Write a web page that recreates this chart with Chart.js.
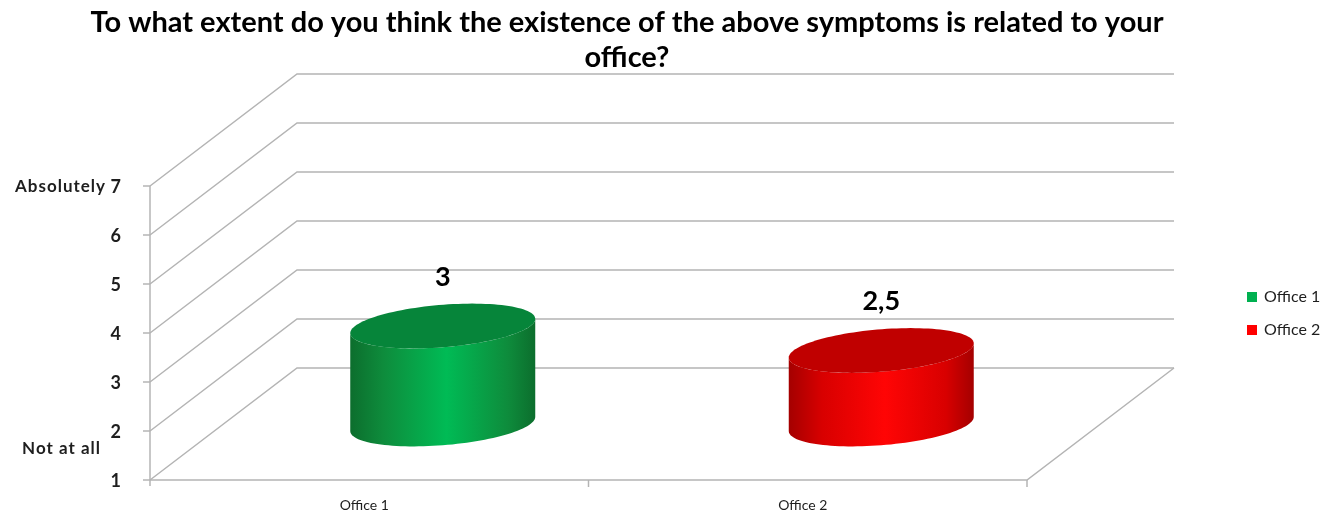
<!DOCTYPE html>
<html>
<head>
<meta charset="utf-8">
<title>Symptoms related to office</title>
<script src="https://cdn.jsdelivr.net/npm/chart.js@4/dist/chart.umd.min.js"></script>
<style>
  html, body { margin: 0; padding: 0; background: #ffffff; }
  canvas { display: block; }
</style>
</head>
<body>
<canvas id="chart" width="1341" height="517"></canvas>
<script>
// ---- data ----
const titleLines = ['To what extent do you think the existence of the above symptoms is related to your', 'office?'];
const categories = ['Office 1', 'Office 2'];
const values = [3, 2.5];
const valueLabels = ['3', '2,5'];
const yTicks = [1, 2, 3, 4, 5, 6, 7];
const yMin = 1;
const yMax = 7;
const topNote = 'Absolutely';
const bottomNote = 'Not at all';
const bottomNoteValue = 1.65;

// ---- style ----
const palette = [
  { edge: '#0c6e2d', mid: '#00bb55', side: '#0e8c3c', top: '#06853a', key: '#00b050' },
  { edge: '#a40000', mid: '#ff0505', side: '#d80000', top: '#c00000', key: '#ff0000' }
];
const depth = { dx: 147, dy: -112 };   // oblique projection of the full depth
const gridColor = '#b4b4b4';
const textColor = '#1e1e1e';
const FONT = 'Lato, "Open Sans", "DejaVu Sans", sans-serif';

function line(ctx, pts) {
  ctx.beginPath();
  ctx.moveTo(pts[0][0], pts[0][1]);
  for (let i = 1; i < pts.length; i++) ctx.lineTo(pts[i][0], pts[i][1]);
  ctx.stroke();
}

// walls, floor, gridlines and axis
const wallsPlugin = {
  id: 'walls',
  beforeDatasetsDraw(chart) {
    const ctx = chart.ctx;
    const { left, right, bottom } = chart.chartArea;
    const ys = chart.scales.y;
    const xs = chart.scales.x;
    ctx.save();
    ctx.strokeStyle = gridColor;
    ctx.lineWidth = 1.5;
    ctx.lineCap = 'butt';
    yTicks.forEach(v => {
      const y = ys.getPixelForValue(v);
      line(ctx, [[left, y], [left + depth.dx, y + depth.dy], [right + depth.dx, y + depth.dy]]);
      line(ctx, [[left - 7, y], [left, y]]);
    });
    // floor
    line(ctx, [[left, bottom], [right, bottom], [right + depth.dx, bottom + depth.dy]]);
    // value axis
    line(ctx, [[left, ys.getPixelForValue(yMax)], [left, bottom + 6]]);
    // category boundaries
    const half = (xs.getPixelForValue(1) - xs.getPixelForValue(0)) / 2;
    categories.forEach((c, i) => {
      const xb = xs.getPixelForValue(i) + half;
      line(ctx, [[xb, bottom], [xb, bottom + 7]]);
    });
    ctx.restore();
  }
};

function ellipsePoint(cx, cy, a, bx, by, t) {
  return [cx + a * Math.cos(t) + bx * Math.sin(t), cy + by * Math.sin(t)];
}

function drawCylinder(ctx, cx, yTop, yBot, a, bx, by, col) {
  const hw = Math.sqrt(a * a + bx * bx);
  const t0 = Math.atan2(bx, a);
  const N = 60;
  const grad = ctx.createLinearGradient(cx - hw, 0, cx + hw, 0);
  grad.addColorStop(0, col.edge);
  grad.addColorStop(0.18, col.side);
  grad.addColorStop(0.52, col.mid);
  grad.addColorStop(0.85, col.side);
  grad.addColorStop(1, col.edge);

  // body: left side, front half of the base, right side, front half of the top
  ctx.beginPath();
  let p = ellipsePoint(cx, yTop, a, bx, by, t0 + Math.PI);
  ctx.moveTo(p[0], p[1]);
  for (let i = 0; i <= N; i++) {
    const t = t0 + Math.PI + Math.PI * i / N;
    p = ellipsePoint(cx, yBot, a, bx, by, t);
    ctx.lineTo(p[0], p[1]);
  }
  for (let i = 0; i <= N; i++) {
    const t = t0 + 2 * Math.PI - Math.PI * i / N;
    p = ellipsePoint(cx, yTop, a, bx, by, t);
    ctx.lineTo(p[0], p[1]);
  }
  ctx.closePath();
  ctx.fillStyle = grad;
  ctx.fill();

  // top cap
  ctx.beginPath();
  for (let i = 0; i <= 2 * N; i++) {
    const t = Math.PI * i / N;
    p = ellipsePoint(cx, yTop, a, bx, by, t);
    if (i === 0) ctx.moveTo(p[0], p[1]); else ctx.lineTo(p[0], p[1]);
  }
  ctx.closePath();
  ctx.fillStyle = col.top;
  ctx.fill();
}

// cylinders, value labels, axis text, legend and title
const decorPlugin = {
  id: 'decor',
  afterDatasetsDraw(chart) {
    const ctx = chart.ctx;
    const { left, bottom } = chart.chartArea;
    const ys = chart.scales.y;
    const xs = chart.scales.x;
    const catW = xs.getPixelForValue(1) - xs.getPixelForValue(0);
    const basePx = ys.getPixelForValue(yMin);
    const meta = chart.getDatasetMeta(0);
    ctx.save();

    meta.data.forEach((bar, i) => {
      const a = bar.width / 2;
      const r = a / catW;
      const bx = r * depth.dx, by = r * depth.dy;
      const cx = bar.x + depth.dx / 2;
      const yTop = bar.y + depth.dy / 2;
      const yBot = basePx + depth.dy / 2;
      drawCylinder(ctx, cx, yTop, yBot, a, bx, by, palette[i]);
      ctx.fillStyle = '#000';
      ctx.font = 'bold 27px ' + FONT;
      ctx.textAlign = 'center';
      ctx.textBaseline = 'middle';
      ctx.fillText(valueLabels[i], cx, yTop - 49);
    });

    // value axis labels
    ctx.fillStyle = textColor;
    ctx.font = 'bold 18px ' + FONT;
    ctx.textAlign = 'right';
    ctx.textBaseline = 'middle';
    yTicks.forEach(v => ctx.fillText(String(v), left - 29, ys.getPixelForValue(v) + 1));
    ctx.font = 'bold 17px ' + FONT;
    ctx.letterSpacing = '1px';
    ctx.fillText(topNote, left - 44, ys.getPixelForValue(yMax) + 1);
    ctx.fillText(bottomNote, left - 49, ys.getPixelForValue(bottomNoteValue));
    ctx.letterSpacing = '0px';

    // category labels
    ctx.font = '14px ' + FONT;
    ctx.textAlign = 'center';
    categories.forEach((c, i) => ctx.fillText(c, xs.getPixelForValue(i) - 5, bottom + 25));

    // legend
    ctx.font = '16px ' + FONT;
    ctx.textAlign = 'left';
    categories.forEach((c, i) => {
      const y = 297 + i * 33;
      ctx.fillStyle = palette[i].key;
      ctx.fillRect(1247, y - 5, 10, 10);
      ctx.fillStyle = textColor;
      ctx.fillText(c, 1264, y);
    });

    // title
    ctx.fillStyle = '#000';
    ctx.font = 'bold 29px ' + FONT;
    ctx.textAlign = 'center';
    ctx.textBaseline = 'alphabetic';
    ctx.fillText(titleLines[0], 627, 32, 1090);
    ctx.fillText(titleLines[1], 627, 67);
    ctx.restore();
  }
};

new Chart(document.getElementById('chart'), {
  type: 'bar',
  data: {
    labels: categories,
    datasets: [{
      label: 'Score',
      data: values,
      backgroundColor: 'rgba(0,0,0,0)',
      borderWidth: 0,
      barPercentage: 0.40,
      categoryPercentage: 1
    }]
  },
  options: {
    responsive: false,
    animation: false,
    devicePixelRatio: 1,
    layout: { padding: { left: 150, top: 186, right: 314, bottom: 37 } },
    scales: {
      x: { display: false },
      y: { display: false, min: yMin, max: yMax }
    },
    plugins: {
      legend: { display: false },
      title: { display: false },
      tooltip: { enabled: false }
    }
  },
  plugins: [wallsPlugin, decorPlugin]
});
</script>
</body>
</html>
